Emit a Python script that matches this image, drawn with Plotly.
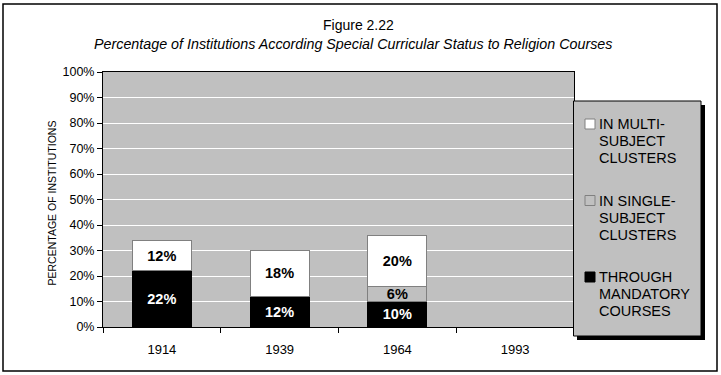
import plotly.graph_objects as go

# ---- data ----
years = ["1914", "1939", "1964", "1993"]
mandatory = [22, 12, 10, 0]
single_subject = [0, 0, 6, 0]
multi_subject = [12, 18, 20, 0]
series_names = ["IN MULTI-<br>SUBJECT<br>CLUSTERS",
                "IN SINGLE-<br>SUBJECT<br>CLUSTERS",
                "THROUGH<br>MANDATORY<br>COURSES"]
title_text = "Figure 2.22"
subtitle_text = "Percentage of Institutions According Special Curricular Status to Religion Courses"
y_title = "PERCENTAGE OF INSTITUTIONS"

W, H = 721, 375
L, R, T, B = 103, 147, 72, 48
PW, PH = W - L - R, H - T - B


def px_x(x):
    return (x - L) / PW


def px_y(y):
    return (H - B - y) / PH


FONT = "Liberation Sans, Arial, sans-serif"


def lbl(vals):
    return [f"{v}%" if v else "" for v in vals]


fig = go.Figure()
traces = [
    (mandatory, "#000000", "#000000", "#ffffff", "THROUGH MANDATORY COURSES"),
    (single_subject, "#c0c0c0", "#808080", "#000000", "IN SINGLE-SUBJECT CLUSTERS"),
    (multi_subject, "#ffffff", "#808080", "#000000", "IN MULTI-SUBJECT CLUSTERS"),
]
for vals, fill, line, tcol, name in traces:
    fig.add_trace(go.Bar(
        x=years, y=vals, name=name,
        marker=dict(color=fill, line=dict(color=line, width=1)),
        text=lbl(vals), textposition="inside", insidetextanchor="middle",
        textangle=0, constraintext="none",
        textfont=dict(family=FONT, size=14.5, color=tcol, weight="bold"),
        width=0.5, hoverinfo="skip", showlegend=False,
    ))

fig.update_layout(
    width=W, height=H, barmode="stack",
    margin=dict(l=L, r=R, t=T, b=B),
    paper_bgcolor="#ffffff", plot_bgcolor="#c0c0c0",
    font=dict(family=FONT, color="#000000", size=13),
    xaxis=dict(showline=True, linecolor="#000000", linewidth=1, mirror=True,
               ticks="outside", ticklen=5, tickcolor="#000000",
               tickson="boundaries", ticklabelstandoff=10,
               tickfont=dict(size=13), showgrid=False),
    yaxis=dict(range=[0, 100], dtick=10, ticksuffix="%",
               showline=True, linecolor="#000000", linewidth=1, mirror=True,
               ticks="outside", ticklen=5, tickcolor="#000000",
               tickfont=dict(size=12.5),
               showgrid=True, gridcolor="#ffffff", gridwidth=1,
               zeroline=False),
)

shapes = []
# figure border
shapes.append(dict(type="rect", xref="paper", yref="paper",
                   x0=px_x(3), x1=px_x(717), y0=px_y(371), y1=px_y(4),
                   line=dict(color="#000000", width=1.5), fillcolor="rgba(0,0,0,0)"))
# legend shadow + box
shapes.append(dict(type="rect", xref="paper", yref="paper",
                   x0=px_x(577), x1=px_x(705), y0=px_y(340), y1=px_y(105),
                   line=dict(width=0), fillcolor="#000000"))
shapes.append(dict(type="rect", xref="paper", yref="paper",
                   x0=px_x(573.5), x1=px_x(701), y0=px_y(336), y1=px_y(101),
                   line=dict(color="#000000", width=1), fillcolor="#c0c0c0"))

annotations = [
    dict(text=title_text, x=px_x(358), y=px_y(25), xref="paper", yref="paper",
         showarrow=False, xanchor="center", yanchor="middle",
         font=dict(size=14, family=FONT)),
    dict(text=f"<i>{subtitle_text}</i>", x=px_x(353), y=px_y(44), xref="paper",
         yref="paper", showarrow=False, xanchor="center", yanchor="middle",
         font=dict(size=14.3, family=FONT)),
    dict(text=y_title, x=px_x(51.5), y=px_y(203), xref="paper", yref="paper",
         showarrow=False, textangle=-90, xanchor="center", yanchor="middle",
         font=dict(size=10.5, family=FONT)),
]

leg_fill = ["#ffffff", "#c0c0c0", "#000000"]
leg_line = ["#808080", "#808080", "#000000"]
first_line_y = [124, 200.5, 277]
for i, name in enumerate(series_names):
    cy = first_line_y[i]
    shapes.append(dict(type="rect", xref="paper", yref="paper",
                       x0=px_x(585), x1=px_x(595), y0=px_y(cy + 5), y1=px_y(cy - 5),
                       line=dict(color=leg_line[i], width=1), fillcolor=leg_fill[i]))
    for j, line in enumerate(name.split("<br>")):
        annotations.append(dict(text=line, x=px_x(597), y=px_y(cy + 17 * j),
                                xref="paper", yref="paper", showarrow=False,
                                xanchor="left", yanchor="middle",
                                font=dict(size=14.5, family=FONT)))

fig.update_layout(shapes=shapes, annotations=annotations)
fig.write_html("out.html", config={"displayModeBar": False},
               post_script="document.body.style.margin='0px';document.body.style.overflow='hidden';")
